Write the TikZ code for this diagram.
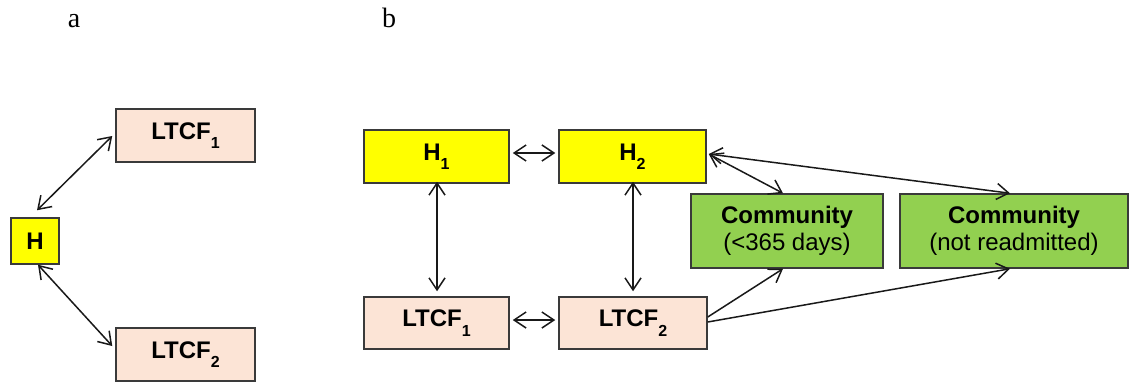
\documentclass[tikz,border=0pt]{standalone}
\usepackage{fontspec}
\setmainfont{Liberation Sans}
\newfontfamily\labelserif{Liberation Serif}
\usetikzlibrary{arrows.meta,calc}

\definecolor{hyellow}{RGB}{255,255,0}
\definecolor{peach}{RGB}{252,228,214}
\definecolor{cgreen}{RGB}{146,208,80}
\definecolor{boxline}{RGB}{58,58,58}

% lowered subscript as used in the facility names
\newcommand\lowsub[1]{\raisebox{-9.5pt}{\fontsize{16}{16}\selectfont #1}}

\begin{document}
\begin{tikzpicture}[x=1pt,y=-1pt,
  box/.style={draw=boxline, line width=1.5pt, inner sep=0pt,
              font=\fontsize{24}{27}\selectfont\bfseries},
  hosp/.style={box, fill=hyellow},
  ltcf/.style={box, fill=peach},
  comm/.style={box, fill=cgreen, align=center},
  link/.style={line width=1.5pt, draw=black!90},
  panel/.style={font=\labelserif\fontsize{28}{28}\selectfont, anchor=base, inner sep=0pt},
  >={Straight Barb[length=12pt,width=16pt]}
]
\useasboundingbox (0,0) rectangle (1130,383);

% panel labels
\node[panel] (la) at (74,27) {a};
\node[panel] (lb) at (389,27) {b};

% ---- panel a ----
\node[hosp, minimum width=48pt, minimum height=46pt] (Ha) at (35,241) {H};
\node[ltcf, minimum width=139pt, minimum height=53pt] (aL1) at (185.5,135.5) {LTCF\lowsub{1}};
\node[ltcf, minimum width=139pt, minimum height=53pt] (aL2) at (185.5,354.5) {LTCF\lowsub{2}};

\draw[link,<->] ($(Ha.north)+(2,-7)$) -- ($(aL1.west)+(-3,0.5)$);
\draw[link,<->] ($(Ha.south)+(3,0)$) -- ($(aL2.west)+(-3,-8.5)$);

% ---- panel b ----
\node[hosp, minimum width=145pt, minimum height=53pt] (H1) at (436.5,156.5) {H\lowsub{1}};
\node[hosp, minimum width=147pt, minimum height=53pt] (H2) at (632.5,156.5) {H\lowsub{2}};
\node[ltcf, minimum width=145pt, minimum height=52pt] (bL1) at (436.5,323) {LTCF\lowsub{1}};
\node[ltcf, minimum width=148pt, minimum height=52pt] (bL2) at (633,323) {LTCF\lowsub{2}};
\node[comm, minimum width=192pt, minimum height=74pt] (C1) at (787,231)
  {Community\\{\mdseries (<365 days)}};
\node[comm, minimum width=228pt, minimum height=74pt] (C2) at (1014,231)
  {Community\\{\mdseries (not readmitted)}};

\draw[link,<->] ($(H1.east)+(3,-3.5)$) -- ($(H2.west)+(-3,-3.5)$);
\draw[link,<->] ($(bL1.east)+(3,-3)$) -- ($(bL2.west)+(-3,-3)$);
\draw[link,<->] ($(H1.south)+(0.5,-2)$) -- ($(bL1.north)+(0.5,-5)$);
\draw[link,<->] ($(H2.south)+(0.5,-2)$) -- ($(bL2.north)+(0,-5)$);

\draw[link,<->] ($(H2.east)+(2,-2.5)$) -- ($(C1.north)+(-4,0)$);
\draw[link,<->] ($(H2.east)+(2,-2.5)$) -- ($(C2.north)+(-4,0)$);
\draw[link,->] ($(bL2.east)+(0,-6)$) -- ($(C1.south)+(-4,0)$);
\draw[link,->] ($(bL2.east)+(0,-1)$) -- ($(C2.south)+(-4,0)$);
\end{tikzpicture}
\end{document}
